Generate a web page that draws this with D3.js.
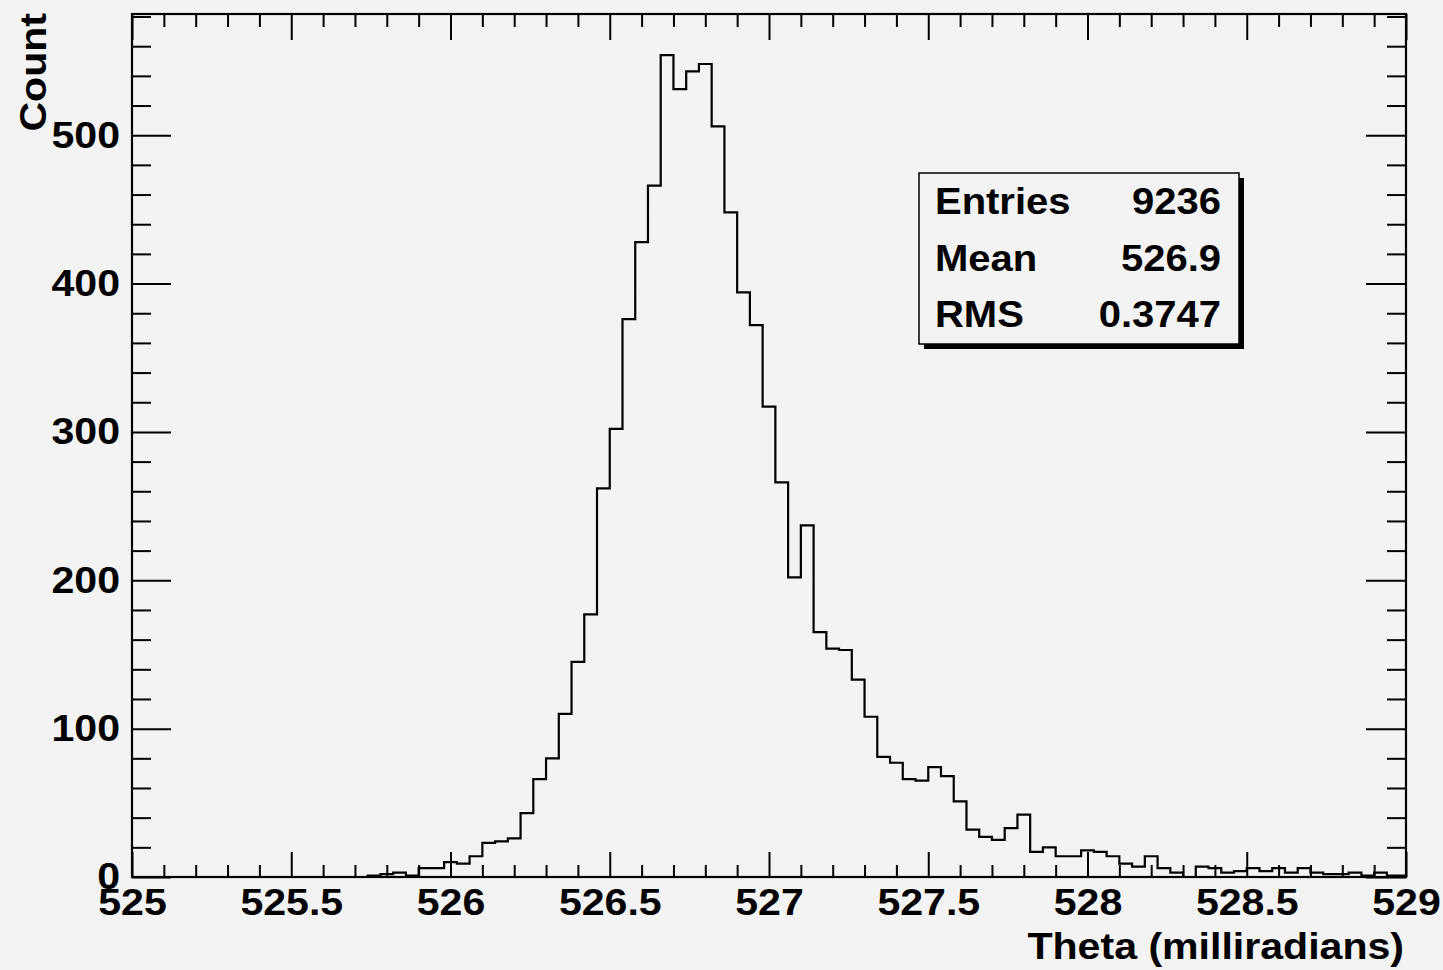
<!DOCTYPE html>
<html>
<head>
<meta charset="utf-8">
<script src="https://cdn.jsdelivr.net/npm/d3@7"></script>
<style>
  html, body { margin: 0; padding: 0; background: #f3f3f3; }
  svg { display: block; }
  text { font-family: "Liberation Sans", Arial, Helvetica, sans-serif; font-weight: bold; fill: #000; }
</style>
</head>
<body>
<svg id="chart" width="1443" height="970"></svg>
<script>
// ---- Data ----
const binLow = 524.98;      // low edge of first bin
const binWidth = 0.04;      // bin width (milliradians)
const counts = [
  0,0,0,0,0,0,0,0,0,0,
  0,0,0,0,0,0,0,0,0,1,
  2,3,1,6,6,10,9,14,23,24,
  26,43,66,80,110,145,177,262,302,376,
  428,466,554,531,543,548,506,448,394,372,
  317,266,202,237,165,154,153,133,108,81,
  77,66,65,74,68,51,32,27,25,33,
  42,17,20,14,14,18,17,14,9,7,
  14,6,3,0,7,6,3,4,6,4,
  6,3,6,3,2,2,3,1,3,1,
  1
];
const xDomain = [525, 529];
const xMajorTicks = [525, 525.5, 526, 526.5, 527, 527.5, 528, 528.5, 529];
const xMinorTicks = [525.1,525.2,525.3,525.4,525.6,525.7,525.8,525.9,526.1,526.2,526.3,526.4,526.6,526.7,526.8,526.9,527.1,527.2,527.3,527.4,527.6,527.7,527.8,527.9,528.1,528.2,528.3,528.4,528.6,528.7,528.8,528.9];
const yMajorTicks = [0, 100, 200, 300, 400, 500];
const yMinorTicks = [20,40,60,80,120,140,160,180,220,240,260,280,320,340,360,380,420,440,460,480,520,540,560,580];
const xTitle = "Theta (milliradians)";
const yTitle = "Count";
const statsLabels = ["Entries", "Mean", "RMS"];
const statsValues = ["9236", "526.9", "0.3747"];

// ---- Layout ----
const L = 132, R = 1406, T = 14, B = 877;
const svg = d3.select("#chart");
svg.append("rect").attr("width", 1443).attr("height", 970).attr("fill", "#f3f3f3");

const yMax = d3.max(counts) * 1.05;
const x = d3.scaleLinear().domain(xDomain).range([L, R]);
const y = d3.scaleLinear().domain([0, yMax]).range([B, T]);

// histogram outline
const pts = [[xDomain[0], 0]];
counts.forEach((c, i) => {
  const lo = Math.max(binLow + i * binWidth, xDomain[0]);
  const hi = Math.min(binLow + (i + 1) * binWidth, xDomain[1]);
  pts.push([lo, c]);
  pts.push([hi, c]);
});
pts.push([xDomain[1], 0]);

svg.append("path")
  .datum(pts)
  .attr("fill", "none")
  .attr("stroke", "#000")
  .attr("stroke-width", 2.2)
  .attr("stroke-linejoin", "miter")
  .attr("d", d3.line().x(d => x(d[0])).y(d => y(d[1])));

// axes
function styleAxis(g) {
  g.select(".domain").remove();
  g.selectAll(".tick line").attr("stroke", "#000").attr("stroke-width", 2);
  g.selectAll(".tick text").style("font-size", "37px").attr("fill", "#000");
}
// bottom
svg.append("g").attr("transform", `translate(0,${B})`)
  .call(d3.axisBottom(x).tickValues(xMajorTicks).tickSize(-25).tickPadding(12).tickFormat(d3.format("")))
  .call(styleAxis);
svg.append("g").attr("transform", `translate(0,${B})`)
  .call(d3.axisBottom(x).tickValues(xMinorTicks).tickSize(-12).tickFormat(""))
  .call(styleAxis);
// top
svg.append("g").attr("transform", `translate(0,${T})`)
  .call(d3.axisTop(x).tickValues(xMajorTicks).tickSize(-26).tickFormat(""))
  .call(styleAxis);
svg.append("g").attr("transform", `translate(0,${T})`)
  .call(d3.axisTop(x).tickValues(xMinorTicks).tickSize(-13).tickFormat(""))
  .call(styleAxis);
// left
svg.append("g").attr("transform", `translate(${L},0)`)
  .call(d3.axisLeft(y).tickValues(yMajorTicks).tickSize(-39).tickPadding(12).tickFormat(d3.format("")))
  .call(styleAxis);
svg.append("g").attr("transform", `translate(${L},0)`)
  .call(d3.axisLeft(y).tickValues(yMinorTicks).tickSize(-19).tickFormat(""))
  .call(styleAxis);
// right
svg.append("g").attr("transform", `translate(${R},0)`)
  .call(d3.axisRight(y).tickValues(yMajorTicks).tickSize(-40).tickFormat(""))
  .call(styleAxis);
svg.append("g").attr("transform", `translate(${R},0)`)
  .call(d3.axisRight(y).tickValues(yMinorTicks).tickSize(-19).tickFormat(""))
  .call(styleAxis);

// frame
svg.append("rect").attr("x", L).attr("y", T).attr("width", R - L).attr("height", B - T)
  .attr("fill", "none").attr("stroke", "#000").attr("stroke-width", 2.2);

// axis titles
svg.append("text").attr("x", 1404).attr("y", 959).attr("text-anchor", "end")
  .style("font-size", "37px").text(xTitle);
svg.append("text").attr("transform", "translate(46,13) rotate(-90)").attr("text-anchor", "end")
  .style("font-size", "37px").text(yTitle);

// stats box
const bx = 919, by = 173, bw = 320, bh = 171;
svg.append("rect").attr("x", bx + 5).attr("y", by + 5).attr("width", bw).attr("height", bh).attr("fill", "#000");
svg.append("rect").attr("x", bx).attr("y", by).attr("width", bw).attr("height", bh)
  .attr("fill", "#f3f3f3").attr("stroke", "#000").attr("stroke-width", 1.5);
const rowY = [214, 271, 327];
statsLabels.forEach((lab, i) => {
  svg.append("text").attr("x", 935).attr("y", rowY[i]).style("font-size", "36px").text(lab);
  svg.append("text").attr("x", 1221).attr("y", rowY[i]).attr("text-anchor", "end").style("font-size", "36px").text(statsValues[i]);
});

// the reference font is a little wider than Liberation Sans Bold: stretch glyphs horizontally
svg.selectAll("text").each(function () {
  const w = this.getComputedTextLength();
  if (w > 0) d3.select(this).attr("textLength", w * 1.11).attr("lengthAdjust", "spacingAndGlyphs");
});
</script>
</body>
</html>
